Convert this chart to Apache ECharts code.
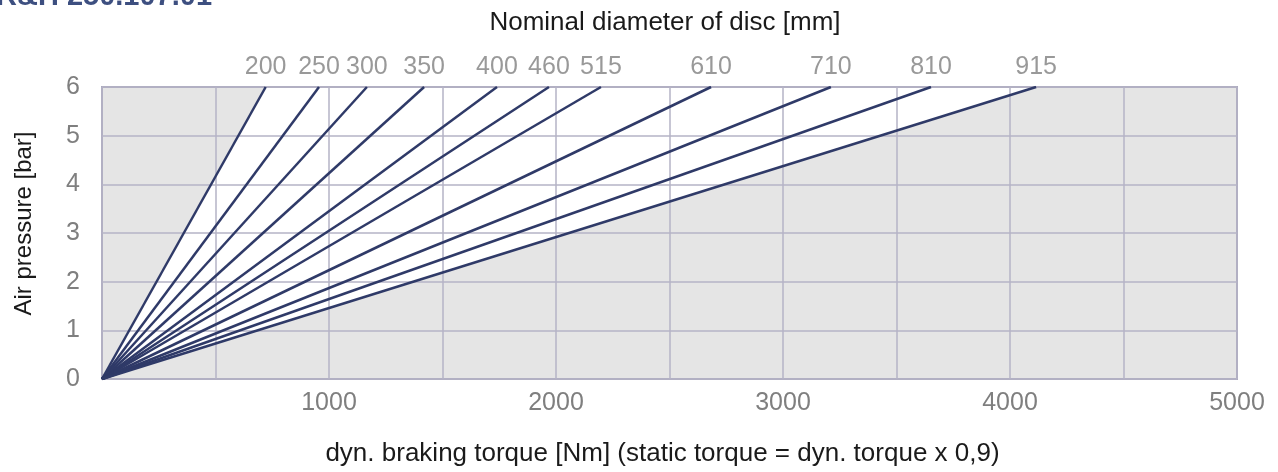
<!DOCTYPE html>
<html>
<head>
<meta charset="utf-8">
<script src="https://cdn.jsdelivr.net/npm/echarts@6/dist/echarts.min.js"></script>
<style>
html,body{margin:0;padding:0;background:#fff;}
#chart{width:1278px;height:472px;}
</style>
</head>
<body>
<div id="chart"></div>
<script>
// ---- data ----
const diameters = ['200','250','300','350','400','460','515','610','710','810','915'];
const torqueAtMaxPressure = [721, 956, 1167, 1419, 1740, 1969, 2198, 2683, 3211, 3652, 4115];
const maxPressure = 6;
const xRange = [0, 5000];
const yRange = [0, 6];
const xLabelValues = [1000, 2000, 3000, 4000, 5000];
const pageTitle = 'R&H 250.107.01';
const topTitle = 'Nominal diameter of disc [mm]';
const xTitle = 'dyn. braking torque [Nm] (static torque = dyn. torque x 0,9)';
const yTitle = 'Air pressure [bar]';

const FONT = "'Liberation Sans', Arial, sans-serif";
const LINE_COLOR = '#2f3a68';
const GRID_COLOR = '#b4b3c6';
const LABEL_GREY = '#7f7f7f';

const chart = echarts.init(document.getElementById('chart'));

const lineSeries = diameters.map((d, i) => ({
  type: 'line',
  name: d,
  data: [[0, 0], [torqueAtMaxPressure[i], maxPressure]],
  showSymbol: false,
  lineStyle: { color: LINE_COLOR, width: 2.5 },
  z: 3,
  silent: true,
  animation: false
}));

// diameter labels at the upper end of each line
const labelSeries = {
  type: 'scatter',
  silent: true,
  animation: false,
  symbolSize: 1,
  itemStyle: { color: 'rgba(0,0,0,0)' },
  z: 4,
  data: diameters.map((d, i) => ({ name: d, value: [torqueAtMaxPressure[i], maxPressure] })),
  label: {
    show: true,
    formatter: p => p.name,
    color: LABEL_GREY,
    fontSize: 25,
    fontFamily: FONT,
    position: 'top',
    distance: 7
  }
};

// background (grey) + white wedge between smallest and largest disc lines
const bgSeries = {
  type: 'custom',
  z: -1,
  silent: true,
  animation: false,
  data: [0],
  renderItem: function (params, api) {
    const p00 = api.coord([xRange[0], yRange[0]]);
    const p11 = api.coord([xRange[1], yRange[1]]);
    const a = api.coord([0, 0]);
    const b = api.coord([torqueAtMaxPressure[0], maxPressure]);
    const c = api.coord([torqueAtMaxPressure[torqueAtMaxPressure.length - 1], maxPressure]);
    return {
      type: 'group',
      children: [
        { type: 'rect', shape: { x: p00[0], y: p11[1], width: p11[0] - p00[0], height: p00[1] - p11[1] }, style: { fill: '#e5e5e5' } },
        { type: 'polygon', shape: { points: [a, b, c] }, style: { fill: '#ffffff' } }
      ]
    };
  }
};

chart.setOption({
  animation: false,
  title: {
    text: topTitle,
    left: 660,
    textAlign: 'center',
    top: 5,
    textStyle: { fontSize: 26, fontWeight: 'normal', color: '#1a1a1a', fontFamily: FONT }
  },
  graphic: [{
    type: 'text',
    left: -4,
    top: -18,
    style: { text: pageTitle, fontSize: 29, fontWeight: 'bold', fill: '#3d4f80', fontFamily: FONT }
  }],
  grid: {
    left: 102, right: 41, top: 87, bottom: 90,
    show: true,
    borderColor: '#aaa9bd',
    borderWidth: 2,
    backgroundColor: 'transparent'
  },
  xAxis: {
    type: 'value',
    min: xRange[0], max: xRange[1], interval: 500,
    name: xTitle,
    nameLocation: 'middle',
    nameGap: 62,
    nameTextStyle: { fontSize: 26, color: '#1a1a1a', fontFamily: FONT, padding: [0, 14, 0, 0] },
    axisLine: { show: false },
    axisTick: { show: false },
    axisLabel: {
      color: LABEL_GREY, fontSize: 25, fontFamily: FONT, margin: 12,
      formatter: v => (xLabelValues.indexOf(v) >= 0 ? String(v) : '')
    },
    splitLine: { show: true, lineStyle: { color: GRID_COLOR, width: 1.5 } }
  },
  yAxis: {
    type: 'value',
    min: yRange[0], max: yRange[1], interval: 1,
    name: yTitle,
    nameLocation: 'middle',
    nameGap: 66,
    nameRotate: 90,
    nameTextStyle: { fontSize: 24, color: '#1a1a1a', fontFamily: FONT, padding: [0, 0, 0, 19] },
    axisLine: { show: false },
    axisTick: { show: false },
    axisLabel: { color: LABEL_GREY, fontSize: 25, fontFamily: FONT, margin: 22 },
    splitLine: { show: true, lineStyle: { color: GRID_COLOR, width: 1.5 } }
  },
  series: [bgSeries].concat(lineSeries, [labelSeries])
});
</script>
</body>
</html>
